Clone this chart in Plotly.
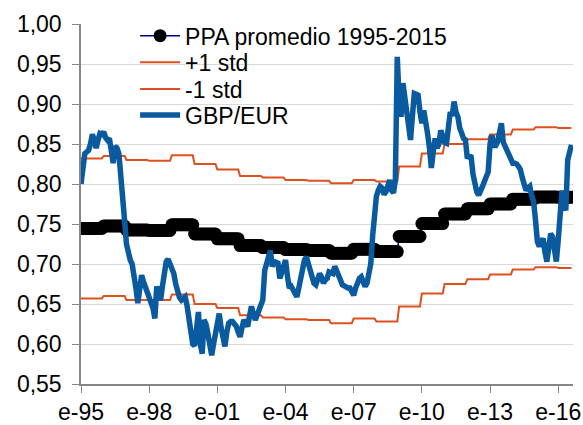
import plotly.graph_objects as go

# ---- data (monthly, Jan-1995 .. Aug-2016) ----
years = list(range(1995, 2017))
ppa_annual = [0.7445, 0.7475, 0.7425, 0.742, 0.749, 0.7375, 0.7315, 0.723, 0.7205, 0.718, 0.717,
              0.7135, 0.7185, 0.7155, 0.7345, 0.7505, 0.7625, 0.769, 0.775, 0.781, 0.7838, 0.7835]
plus1_annual = [0.832, 0.835, 0.830, 0.829, 0.836, 0.825, 0.818, 0.810, 0.808, 0.805, 0.804,
                0.801, 0.805, 0.803, 0.822, 0.838, 0.850, 0.856, 0.862, 0.868, 0.871, 0.870]
minus1_annual = [0.657, 0.660, 0.655, 0.655, 0.662, 0.650, 0.645, 0.636, 0.633, 0.631, 0.630,
                 0.626, 0.632, 0.628, 0.647, 0.663, 0.675, 0.681, 0.687, 0.693, 0.696, 0.695]
months_2016 = 8

gbp_eur = [
    0.800, 0.825, 0.838, 0.840, 0.842, 0.850, 0.862, 0.855, 0.845, 0.855, 0.863, 0.862,  # 1995
    0.865, 0.858, 0.855, 0.857, 0.845, 0.826, 0.847, 0.845, 0.838, 0.815, 0.790, 0.755,  # 1996
    0.725, 0.713, 0.705, 0.700, 0.688, 0.670, 0.651, 0.670, 0.686, 0.678, 0.672, 0.665,  # 1997
    0.660, 0.655, 0.645, 0.632, 0.672, 0.662, 0.655, 0.672, 0.690, 0.703, 0.706, 0.700,  # 1998
    0.692, 0.688, 0.675, 0.663, 0.658, 0.655, 0.657, 0.659, 0.648, 0.634, 0.615, 0.600,  # 1999
    0.598, 0.620, 0.640, 0.600, 0.588, 0.630, 0.625, 0.613, 0.600, 0.586, 0.600, 0.613,  # 2000
    0.628, 0.638, 0.620, 0.605, 0.597, 0.615, 0.626, 0.628, 0.628, 0.625, 0.622, 0.615,  # 2001
    0.609, 0.620, 0.630, 0.626, 0.622, 0.635, 0.647, 0.638, 0.630, 0.636, 0.643, 0.648,  # 2002
    0.655, 0.692, 0.700, 0.712, 0.717, 0.697, 0.703, 0.702, 0.701, 0.682, 0.690, 0.700,  # 2003
    0.705, 0.685, 0.670, 0.672, 0.667, 0.663, 0.659, 0.670, 0.684, 0.695, 0.705, 0.709,  # 2004
    0.700, 0.694, 0.682, 0.676, 0.674, 0.680, 0.688, 0.684, 0.676, 0.680, 0.682, 0.690,  # 2005
    0.688, 0.688, 0.697, 0.692, 0.688, 0.680, 0.674, 0.672, 0.671, 0.670, 0.670, 0.665,  # 2006
    0.661, 0.670, 0.678, 0.682, 0.684, 0.678, 0.672, 0.676, 0.690, 0.700, 0.735, 0.765,  # 2007
    0.785, 0.792, 0.797, 0.795, 0.787, 0.790, 0.800, 0.805, 0.792, 0.789, 0.805, 0.959,  # 2008
    0.905, 0.884, 0.926, 0.905, 0.897, 0.875, 0.855, 0.885, 0.913, 0.912, 0.911, 0.890,  # 2009
    0.876, 0.892, 0.880, 0.863, 0.845, 0.820, 0.840, 0.857, 0.845, 0.850, 0.867, 0.860,  # 2010
    0.852, 0.851, 0.870, 0.890, 0.885, 0.903, 0.890, 0.884, 0.870, 0.863, 0.857, 0.855,  # 2011
    0.832, 0.835, 0.834, 0.812, 0.800, 0.790, 0.786, 0.790, 0.797, 0.803, 0.808, 0.815,  # 2012
    0.850, 0.861, 0.848, 0.848, 0.853, 0.862, 0.876, 0.852, 0.847, 0.840, 0.834, 0.828,  # 2013
    0.826, 0.826, 0.825, 0.822, 0.818, 0.808, 0.797, 0.792, 0.795, 0.797, 0.785, 0.778,  # 2014
    0.755, 0.728, 0.722, 0.730, 0.732, 0.715, 0.703, 0.720, 0.738, 0.734, 0.715, 0.703,  # 2015
    0.730, 0.755, 0.792, 0.775, 0.767, 0.830, 0.842, 0.849,                              # 2016
]

tick_months = [0, 36, 72, 108, 144, 180, 216, 252]
tick_labels = ["e-95", "e-98", "e-01", "e-04", "e-07", "e-10", "e-13", "e-16"]

series_names = ["PPA promedio 1995-2015", "+1 std", "-1 std", "GBP/EUR"]


def monthly(annual):
    out = []
    for i, v in enumerate(annual):
        n = months_2016 if years[i] == 2016 else 12
        out.extend([v] * n)
    return out


ppa = monthly(ppa_annual)
plus1 = monthly(plus1_annual)
minus1 = monthly(minus1_annual)
x = list(range(len(gbp_eur)))

FONT = "Liberation Sans, Arial, sans-serif"
FS = 23
ORANGE = "#E0501F"
BLUE = "#0A5AA0"
AXIS = "#868686"

fig = go.Figure()
fig.add_trace(go.Scatter(x=x, y=ppa, name=series_names[0], mode="lines+markers",
                         line=dict(color="#000080", width=1.5),
                         marker=dict(color="black", size=13), legend="legend"))
fig.add_trace(go.Scatter(x=x, y=plus1, name=series_names[1], mode="lines",
                         line=dict(color=ORANGE, width=2), legend="legend2"))
fig.add_trace(go.Scatter(x=x, y=minus1, name=series_names[2], mode="lines",
                         line=dict(color=ORANGE, width=2), legend="legend3"))
fig.add_trace(go.Scatter(x=x, y=gbp_eur, name=series_names[3], mode="lines",
                         line=dict(color=BLUE, width=5.5), legend="legend4"))

leg_common = dict(x=0.11, xanchor="left", yanchor="middle", bgcolor="rgba(0,0,0,0)",
                  font=dict(size=FS, family=FONT, color="black"), itemwidth=40,
                  borderwidth=0)
fig.update_layout(
    width=583, height=425,
    margin=dict(l=81, r=10, t=24, b=41, autoexpand=False),
    paper_bgcolor="white", plot_bgcolor="white",
    separators=",.",
    font=dict(family=FONT, size=FS, color="black"),
    showlegend=True,
    legend=dict(y=0.9675, **leg_common),
    legend2=dict(y=0.8936, **leg_common),
    legend3=dict(y=0.8194, **leg_common),
    legend4=dict(y=0.7472, **leg_common),
)
fig.update_xaxes(range=[0, 259.8], tickmode="array", tickvals=tick_months, ticktext=tick_labels,
                 showgrid=False, showline=True, linecolor=AXIS, linewidth=1.5,
                 ticks="outside", ticklen=7, tickcolor=AXIS, tickwidth=1,
                 zeroline=False, tickfont=dict(size=FS), automargin=False)
fig.update_yaxes(range=[0.55, 1.0], dtick=0.05, tickformat=".2f",
                 showgrid=True, gridcolor="#D9D9D9", gridwidth=1,
                 showline=True, linecolor=AXIS, linewidth=1.5,
                 ticks="outside", ticklen=7, tickcolor=AXIS, tickwidth=1,
                 zeroline=False, tickfont=dict(size=FS), ticklabelstandoff=6,
                 automargin=False)

fig.write_html("out.html", config={"displayModeBar": False},
               post_script="document.body.style.margin='0';document.body.style.overflow='hidden';")
